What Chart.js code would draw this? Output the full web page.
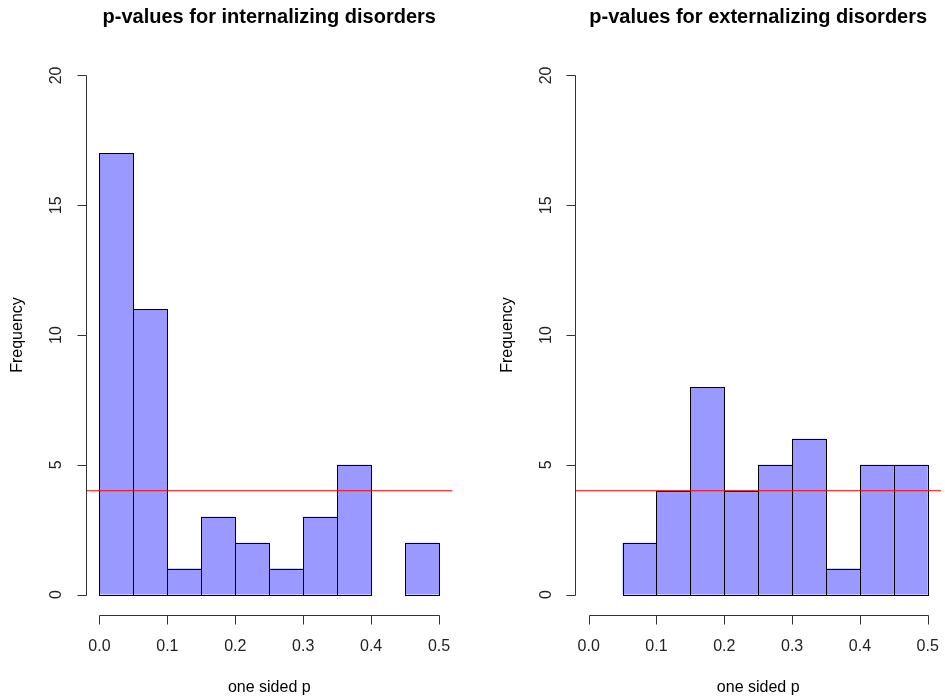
<!DOCTYPE html>
<html>
<head>
<meta charset="utf-8">
<script src="https://cdn.jsdelivr.net/npm/chart.js"></script>
<style>
  html, body { margin: 0; padding: 0; background: #fff; }
  #wrap { position: relative; width: 945px; height: 700px; }
  canvas { position: absolute; top: 0; }
</style>
</head>
<body>
<div id="wrap">
  <canvas id="left" width="472" height="700" style="left:0;width:472px;height:700px"></canvas>
  <canvas id="right" width="473" height="700" style="left:472px;width:473px;height:700px"></canvas>
</div>
<script>
// histogram bins (midpoints of 0.05 wide bins)
const binMids = [0.025, 0.075, 0.125, 0.175, 0.225, 0.275, 0.325, 0.375, 0.425, 0.475];
const internalizing = [17, 11, 1, 3, 2, 1, 3, 5, 0, 2];
const externalizing = [0, 2, 4, 8, 4, 5, 6, 1, 5, 5];
const xTicks = [0, 0.1, 0.2, 0.3, 0.4, 0.5];
const yTicks = [0, 5, 10, 15, 20];
const refLine = 4;

const FONT = '"Liberation Sans", Arial, sans-serif';

// R style axes, labels and bar outlines
const rStyle = {
  id: 'rStyle',
  afterDatasetDraw(chart, args) {
    if (args.meta.type !== 'bar') return;
    const ctx = chart.ctx;
    ctx.save();
    ctx.strokeStyle = '#000';
    ctx.lineWidth = 1;
    args.meta.data.forEach((bar, i) => {
      const v = args.meta._parsed[i].y;
      if (v === null || isNaN(v)) return;
      const p = bar.getProps(['x', 'y', 'base', 'width'], true);
      const l = Math.round(p.x - p.width / 2) + 0.5;
      const r = Math.round(p.x + p.width / 2) + 0.5;
      const t = Math.round(p.y) + 0.5;
      const b = Math.round(p.base) + 0.5;
      ctx.strokeRect(l, t, r - l, b - t);
    });
    ctx.restore();
  },
  afterDraw(chart, args, opts) {
    const ctx = chart.ctx;
    const xs = chart.scales.x, ys = chart.scales.y;
    const area = chart.chartArea;
    const axisX = Math.round(area.left) + 0.5;
    const axisY = Math.round(area.bottom) + 0.5;
    ctx.save();
    ctx.strokeStyle = '#333';
    ctx.fillStyle = '#222';
    ctx.lineWidth = 1;

    // y axis
    const y0 = Math.round(ys.getPixelForValue(yTicks[0])) + 0.5;
    const y1 = Math.round(ys.getPixelForValue(yTicks[yTicks.length - 1])) + 0.5;
    ctx.beginPath();
    ctx.moveTo(axisX, y0);
    ctx.lineTo(axisX, y1);
    yTicks.forEach(v => {
      const py = Math.round(ys.getPixelForValue(v)) + 0.5;
      ctx.moveTo(axisX, py);
      ctx.lineTo(axisX - 9, py);
    });
    ctx.stroke();
    ctx.font = '16px ' + FONT;
    ctx.textAlign = 'center';
    ctx.textBaseline = 'middle';
    yTicks.forEach(v => {
      const py = ys.getPixelForValue(v);
      ctx.save();
      ctx.translate(area.left - 29, py);
      ctx.rotate(-Math.PI / 2);
      ctx.fillText(String(v), 0, 0);
      ctx.restore();
    });

    // x axis
    const x0 = Math.round(xs.getPixelForValue(xTicks[0])) + 0.5;
    const x1 = Math.round(xs.getPixelForValue(xTicks[xTicks.length - 1])) + 0.5;
    ctx.beginPath();
    ctx.moveTo(x0, axisY);
    ctx.lineTo(x1, axisY);
    xTicks.forEach(v => {
      const px = Math.round(xs.getPixelForValue(v)) + 0.5;
      ctx.moveTo(px, axisY);
      ctx.lineTo(px, axisY + 9);
    });
    ctx.stroke();
    xTicks.forEach(v => {
      ctx.fillText(v.toFixed(1), xs.getPixelForValue(v), area.bottom + 31);
    });

    // axis titles
    const cx = (area.left + area.right) / 2;
    const cy = (area.top + area.bottom) / 2;
    ctx.fillStyle = '#000';
    ctx.fillText('one sided p', cx, area.bottom + 72);
    ctx.save();
    ctx.translate(area.left - 68, cy);
    ctx.rotate(-Math.PI / 2);
    ctx.fillText('Frequency', 0, 0);
    ctx.restore();

    // main title
    ctx.font = 'bold 20px ' + FONT;
    ctx.textBaseline = 'alphabetic';
    ctx.fillText(opts.title, cx, 23);
    ctx.restore();
  }
};

function drawHist(id, title, counts, padLeft, padRight) {
  new Chart(document.getElementById(id), {
    data: {
      datasets: [
        {
          type: 'bar',
          data: binMids.map((m, i) => ({ x: m, y: counts[i] > 0 ? counts[i] : null })),
          backgroundColor: '#9999FF',
          borderWidth: 0,
          barPercentage: 1,
          categoryPercentage: 1,
          inflateAmount: 0,
          order: 2
        },
        {
          type: 'line',
          data: [{ x: -0.02, y: refLine }, { x: 0.52, y: refLine }],
          borderColor: '#FF0000',
          borderWidth: 1,
          pointRadius: 0,
          order: 1
        }
      ]
    },
    options: {
      responsive: false,
      animation: false,
      layout: { padding: { left: padLeft, right: padRight, top: 54.7, bottom: 84.7 } },
      scales: {
        x: { type: 'linear', min: -0.02, max: 0.52, offset: false, display: false },
        y: { type: 'linear', min: -0.8, max: 20.8, display: false }
      },
      plugins: {
        legend: { display: false },
        tooltip: { enabled: false },
        rStyle: { title: title }
      }
    },
    plugins: [rStyle]
  });
}

drawHist('left', 'p-values for internalizing disorders', internalizing, 85.9, 19.4);
drawHist('right', 'p-values for externalizing disorders', externalizing, 103.1, 3.7);
</script>
</body>
</html>
